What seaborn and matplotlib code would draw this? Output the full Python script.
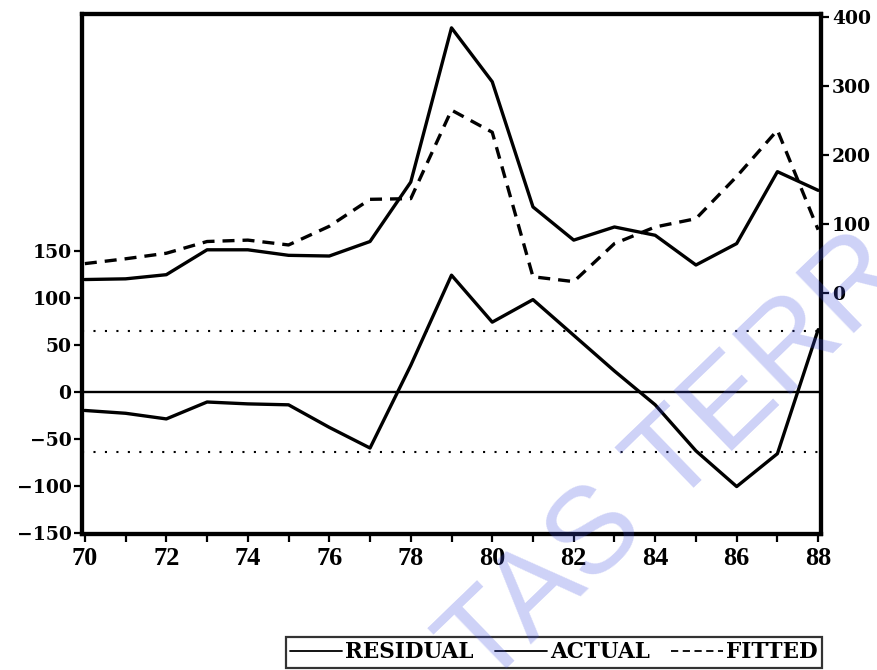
import matplotlib
matplotlib.use("Agg")
import matplotlib.pyplot as plt
from matplotlib.lines import Line2D
from matplotlib.ticker import MultipleLocator, FixedLocator
import pandas as pd
import seaborn as sns

# Annual observations, 1970-1988
years = list(range(70, 89))
actual = [20, 21, 27, 63, 63, 55, 54, 75, 161, 384, 306, 125, 77, 96, 84, 41, 72, 176, 149]
fitted = [43, 50, 58, 75, 77, 70, 97, 136, 137, 265, 233, 24, 17, 72, 96, 108, 169, 236, 92]
residual = [-20, -23, -29, -11, -13, -14, -38, -60, 28, 124, 74, 98, 60, 22, -14, -63, -101, -66, 66]
std_err = 64.5  # one standard error band for the residuals

left_ticks = [-150, -100, -50, 0, 50, 100, 150]
right_ticks = [0, 100, 200, 300, 400]
x_label_years = list(range(70, 89, 2))

df = pd.DataFrame({"year": years, "actual": actual, "fitted": fitted, "residual": residual})


def num_label(v):
    return str(v).replace("-", "\u2212")


sns.set_theme(style="white")
plt.rcParams["font.family"] = ["DejaVu Serif", "DejaVu Sans"]
plt.rcParams["axes.unicode_minus"] = True
plt.rcParams["text.color"] = "black"
plt.rcParams["xtick.color"] = "black"
plt.rcParams["ytick.color"] = "black"
plt.rcParams["xtick.labelcolor"] = "black"
plt.rcParams["ytick.labelcolor"] = "black"

fig = plt.figure(figsize=(8.77, 6.70), dpi=100)
ax = fig.add_axes([82 / 877, 1 - 534 / 670, (821 - 82) / 877, (534 - 14) / 670])
ax2 = ax.twinx()

LW = 2.4
# residual on the left scale
sns.lineplot(data=df, x="year", y="residual", ax=ax, color="black", lw=LW, legend=False)
ax.axhline(0, color="black", lw=1.7, zorder=1)
for s in (std_err, -std_err):
    ax.axhline(s, color="black", lw=1.5, linestyle=(0, (1, 4.5)), zorder=1)

# actual and fitted on the right scale
sns.lineplot(data=df, x="year", y="actual", ax=ax2, color="black", lw=LW, legend=False)
sns.lineplot(data=df, x="year", y="fitted", ax=ax2, color="black", lw=LW,
             linestyle=(0, (3.6, 2.4)), legend=False)

ax.set_xlim(69.93, 88.07)
ax.set_ylim(-151.5, 402)
ax2.set_ylim(-348, 404)

ax.xaxis.set_major_locator(FixedLocator(x_label_years))
ax.xaxis.set_minor_locator(MultipleLocator(1))
ax.set_xticklabels([str(y) for y in x_label_years])
ax.yaxis.set_major_locator(FixedLocator(left_ticks))
ax.set_yticklabels([num_label(v) for v in left_ticks])
ax2.yaxis.set_major_locator(FixedLocator(right_ticks))
ax2.set_yticklabels([num_label(v) for v in right_ticks])

for a in (ax, ax2):
    a.set_xlabel("")
    a.set_ylabel("")
    for sp in a.spines.values():
        sp.set_visible(True)
        sp.set_linewidth(3.0)
        sp.set_color("black")

ax.tick_params(axis="x", which="both", direction="out", length=5.5, width=1.6,
               color="black", labelcolor="black", pad=4, bottom=True)
ax.tick_params(axis="y", which="both", direction="out", length=5.5, width=1.6,
               color="black", labelcolor="black", pad=2, left=True)
ax2.tick_params(axis="y", which="both", direction="out", length=5.5, width=1.6,
                color="black", labelcolor="black", pad=2.5, right=True)

for lab in ax.get_xticklabels():
    lab.set_fontfamily("Liberation Serif")
    lab.set_fontweight("bold")
    lab.set_fontsize(19)
for lab in ax.get_yticklabels() + ax2.get_yticklabels():
    lab.set_fontfamily("DejaVu Serif")
    lab.set_fontweight("bold")
    lab.set_fontsize(13.5)

# legend strip under the plot
handles = [
    Line2D([], [], color="black", lw=1.3),
    Line2D([], [], color="black", lw=1.3),
    Line2D([], [], color="black", lw=1.3, linestyle=(0, (4, 2.5))),
]
leg = fig.legend(handles, ["RESIDUAL", "ACTUAL", "FITTED"], loc="center",
                 bbox_to_anchor=(554 / 877, 1 - 652.5 / 670), ncol=3,
                 frameon=True, fancybox=False, shadow=False,
                 handlelength=2.4, handletextpad=0.15, columnspacing=1.0,
                 borderpad=0.2, borderaxespad=0, labelcolor="black",
                 prop={"family": "DejaVu Serif", "weight": "bold", "size": 15.5})
leg.get_frame().set_edgecolor("black")
leg.get_frame().set_linewidth(1.6)
leg.get_frame().set_facecolor("white")

# watermark
fig.text(484 / 877, 1 - 690 / 670, "TAS TERR", rotation=44, rotation_mode="anchor",
         ha="left", va="baseline", fontsize=88, family="Liberation Sans",
         color=(0.25, 0.31, 0.88), alpha=0.26, zorder=20)

fig.savefig("out.png", dpi=100)
